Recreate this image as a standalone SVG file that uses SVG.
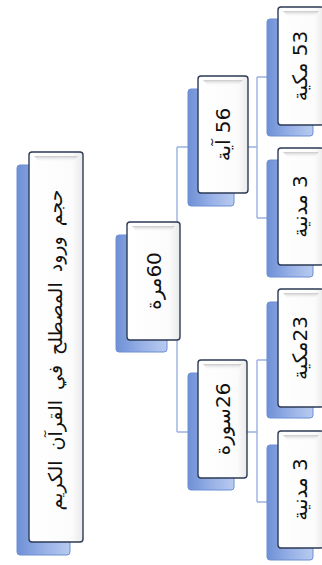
<svg xmlns="http://www.w3.org/2000/svg" width="322" height="565" viewBox="0 0 322 565">
<defs>
<linearGradient id="sh" x1="0" y1="0" x2="1" y2="0">
<stop offset="0" stop-color="#6e90d6"/>
<stop offset="0.5" stop-color="#97b0e6"/>
<stop offset="1" stop-color="#b8cbef"/>
</linearGradient>
<linearGradient id="wf" x1="0" y1="0" x2="1" y2="0">
<stop offset="0" stop-color="#ffffff"/>
<stop offset="0.8" stop-color="#fbfbfb"/>
<stop offset="1" stop-color="#e9e9e9"/>
</linearGradient>
<linearGradient id="bev" x1="0" y1="0" x2="0" y2="1">
<stop offset="0" stop-color="#c8c8c8"/>
<stop offset="1" stop-color="#ffffff" stop-opacity="0"/>
</linearGradient>
</defs>
<style>
.sh{fill:url(#sh);stroke:#6d8fd3;stroke-width:1}
.wb{fill:url(#wf);stroke:#2d3a56;stroke-width:1.4}
.bv{fill:url(#bev)}
.cn{fill:none;stroke:#9bb1e2;stroke-width:1.4}
.t{font-family:'DejaVu Sans',sans-serif;font-size:20px;fill:#111;text-anchor:middle;direction:rtl}
.tt{font-family:'DejaVu Sans',sans-serif;font-size:19px;word-spacing:4px;fill:#111;text-anchor:middle;direction:rtl}
</style>
<g id="connectors">
<path class="cn" d="M177 147V432M177 147H189M177 432H189"/>
<path class="cn" d="M247 147H257M257 77V218M257 77H268M257 218H268"/>
<path class="cn" d="M246 432H257M257 360V502M257 360H268M257 502H268"/>
</g>
<g id="title">
<rect class="sh" x="17" y="165" width="53" height="390" rx="3"/>
<rect class="wb" x="29" y="152" width="54" height="390" rx="3"/>
<path class="bv" d="M34 156H78L73 162H39Z"/>
<text class="tt" transform="translate(56 350) rotate(-90)" dy="6">حجم ورود المصطلح في القرآن الكريم</text>
</g>
<g id="n60">
<rect class="sh" x="116" y="235" width="51" height="117" rx="3"/>
<rect class="wb" x="127" y="222" width="53" height="118" rx="3"/>
<path class="bv" d="M132 226H175L170 232H137Z"/>
<text class="t" transform="translate(153.5 281) rotate(-90)" dy="7">60مرة</text>
</g>
<g id="n56">
<rect class="sh" x="188" y="89" width="46" height="117" rx="3"/>
<rect class="wb" x="198" y="76" width="50" height="117" rx="3"/>
<path class="bv" d="M203 80H243L238 86H208Z"/>
<text class="t" transform="translate(223 134.5) rotate(-90)" dy="7">56 آية</text>
</g>
<g id="n26">
<rect class="sh" x="188" y="373" width="46" height="117" rx="3"/>
<rect class="wb" x="198" y="360" width="49" height="118" rx="3"/>
<path class="bv" d="M203 364H242L237 370H208Z"/>
<text class="t" transform="translate(222.5 419) rotate(-90)" dy="7">26سورة</text>
</g>
<g id="n53">
<rect class="sh" x="267" y="19" width="46" height="117" rx="3"/>
<rect class="wb" x="278" y="7" width="46" height="118" rx="3"/>
<path class="bv" d="M283 11H319L314 17H288Z"/>
<text class="t" transform="translate(300 66) rotate(-90)" dy="7">53 مكية</text>
</g>
<g id="n3a">
<rect class="sh" x="267" y="160" width="46" height="117" rx="3"/>
<rect class="wb" x="278" y="148" width="46" height="117" rx="3"/>
<path class="bv" d="M283 152H319L314 158H288Z"/>
<text class="t" transform="translate(300 206.5) rotate(-90)" dy="7">3 مدنية</text>
</g>
<g id="n23">
<rect class="sh" x="267" y="302" width="46" height="116" rx="3"/>
<rect class="wb" x="278" y="289" width="46" height="118" rx="3"/>
<path class="bv" d="M283 293H319L314 299H288Z"/>
<text class="t" transform="translate(300 348) rotate(-90)" dy="7">23مكية</text>
</g>
<g id="n3b">
<rect class="sh" x="267" y="445" width="46" height="115" rx="3"/>
<rect class="wb" x="278" y="431" width="46" height="117" rx="3"/>
<path class="bv" d="M283 435H319L314 441H288Z"/>
<text class="t" transform="translate(300 489.5) rotate(-90)" dy="7">3 مدنية</text>
</g>
</svg>
